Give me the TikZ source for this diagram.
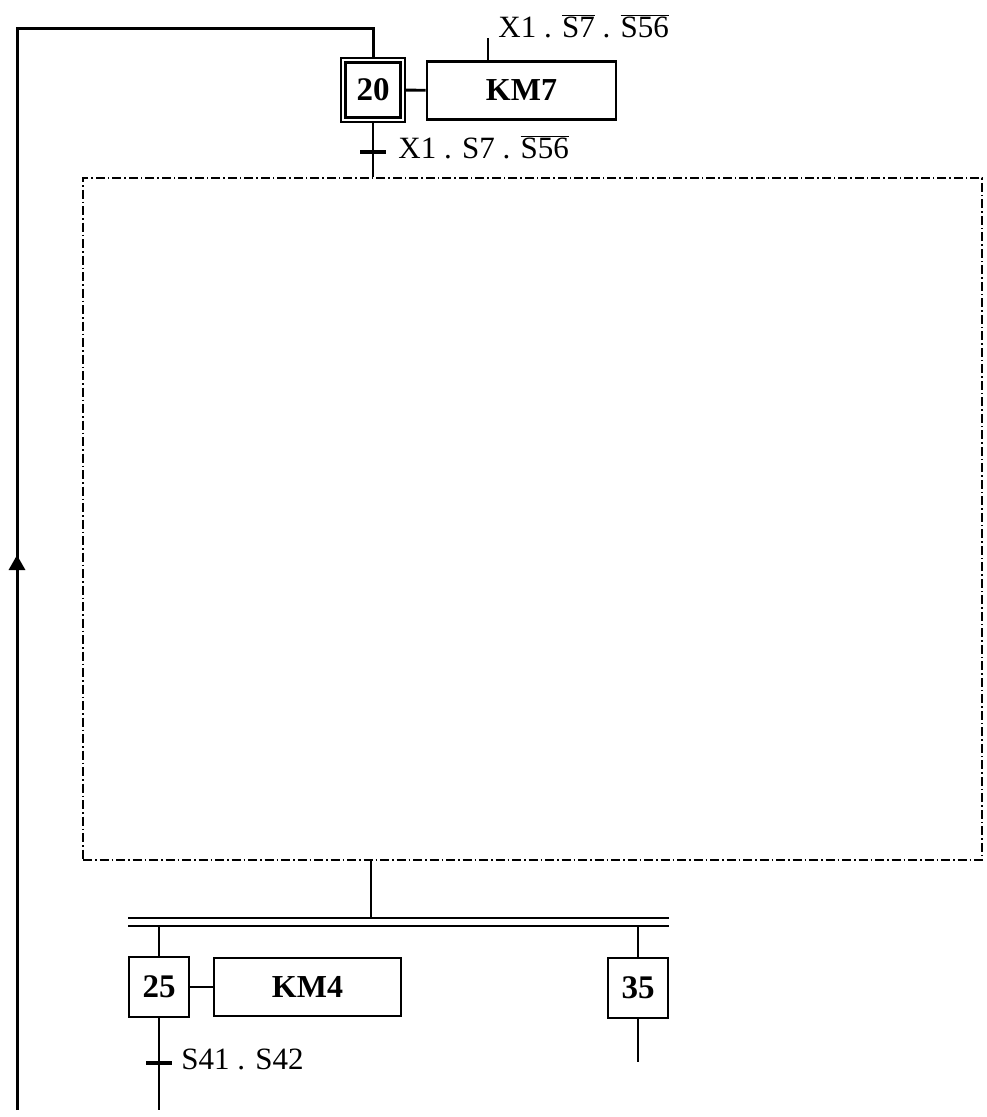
\documentclass[tikz,border=0pt]{standalone}
\usepackage{fontspec}
\setmainfont{Liberation Serif}
\usepackage{tikz}
\usetikzlibrary{positioning,arrows.meta,decorations.markings}
\newcommand{\nonv}[1]{$\overline{\mbox{#1}}$}

\begin{document}
\begin{tikzpicture}[x=1pt,y=-1pt,line width=2.8pt,font=\fontsize{31}{36}\selectfont,
  etape/.style ={draw,line width=2.8pt,minimum size=60pt,inner sep=0pt,font=\fontsize{33}{36}\selectfont\bfseries},
  init/.style  ={draw,line width=2.2pt,double,double distance=2.3pt,minimum size=59.5pt,inner sep=0pt,outer sep=3.35pt,font=\fontsize{33}{36}\selectfont\bfseries},
  action/.style={draw,line width=2.8pt,minimum height=58pt,inner sep=0pt,font=\fontsize{32}{36}\selectfont\bfseries},
  recep/.style ={fill,minimum width=26pt,minimum height=3.8pt,inner sep=0pt},
  lab/.style   ={inner sep=0pt,anchor=base west},
  zone/.style  ={draw,line width=1.1pt,dash pattern=on 9pt off 3pt on 1.5pt off 3pt,minimum width=899pt,minimum height=682pt,inner sep=0pt},
  retour/.style={line width=3pt,postaction={decorate},decoration={markings,mark=at position 555pt with {\arrow{Triangle[length=15pt,width=16pt]}}}}]
\useasboundingbox (0,0) rectangle (986,1117);

% etape initiale 20
\node[init]   (e20) at (373,90) {20};
\node[action,minimum width=189pt] (a20) at (521.5,90.5) {KM7};
\coordinate (c20) at (488,38);
\node[lab]    (l20) at (497,37) {X1 . \nonv{S7} . \nonv{S56}};
\node[recep]  (t20) at (373,152) {};
\node[lab]    (lt20) at (397,158) {X1 . S7 . \nonv{S56}};

% zone
\node[zone]   (zone) at (532.5,519) {};

% divergence en ET
\coordinate (dv) at (371,922);
\coordinate (dg) at (128,922);
\coordinate (dd) at (669,922);

\node[etape]  (e25) at (159,987) {25};
\node[action,minimum width=187pt] (a25) at (307.5,987) {KM4};
\node[recep]  (t25) at (159,1063) {};
\node[lab]    (lt25) at (180,1069) {S41 . S42};
\coordinate (f25) at (159,1110);
\node[etape]  (e35) at (638,988) {35};
\coordinate (f35) at (638,1062);

% retour
\coordinate (r0) at (17,1110);
\coordinate (r1) at (17,28);

\draw[retour] (r0) -- (r1) -- (r1 -| e20.north) -- (e20.north);
\draw (e20) -- (a20);
\draw (c20) -- (c20 |- a20.north);
\draw (e20.south) -- (e20.south |- zone.north);
\draw (dv |- zone.south) -- (dv);
\draw (e25.north) -- (e25.north |- dd);
\draw (e35.north) -- (e35.north |- dd);
\draw[line width=2.5pt,double,double distance=5.5pt] (dg) -- (dd);
\draw (e25) -- (a25);
\draw (e25.south) -- (f25);
\draw (e35.south) -- (f35);
\end{tikzpicture}
\end{document}
